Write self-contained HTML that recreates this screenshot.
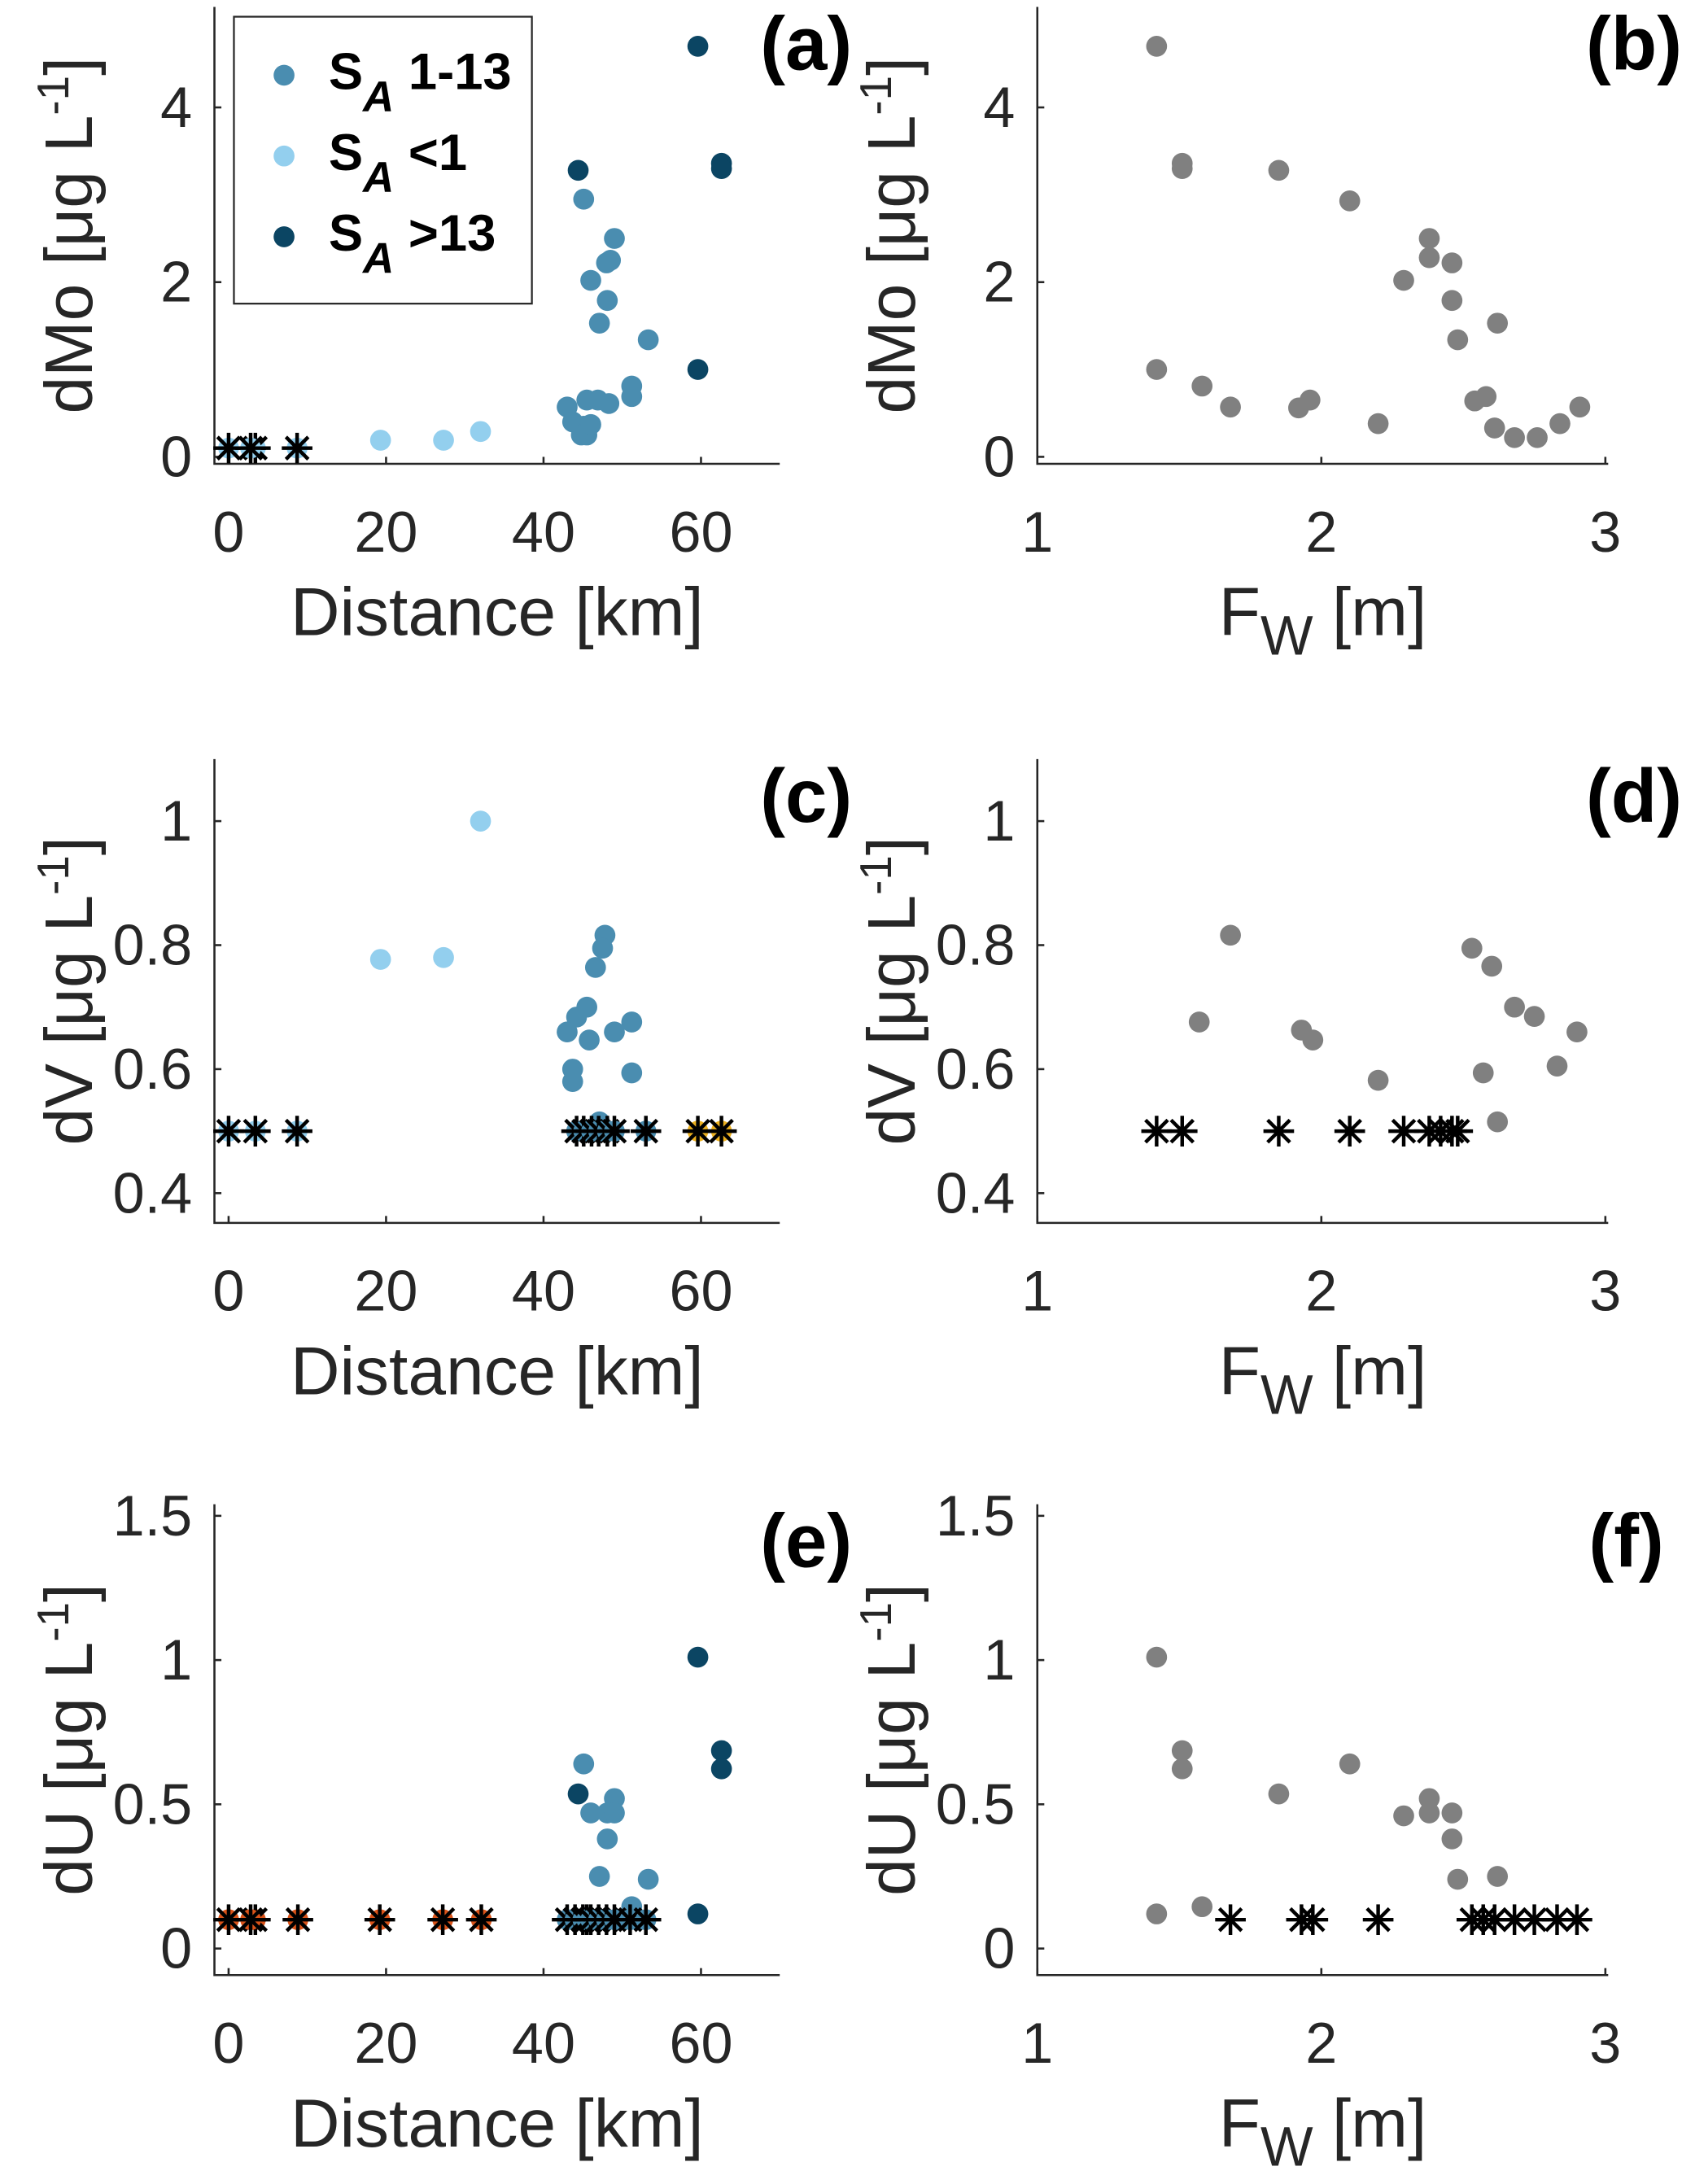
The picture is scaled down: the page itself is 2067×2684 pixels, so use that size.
<!DOCTYPE html>
<html><head><meta charset="utf-8"><style>
html,body{margin:0;padding:0;background:#fff}
svg{display:block}
text{font-family:"Liberation Sans",sans-serif;fill:#262626}
</style></head><body>
<svg id="fig" width="2067" height="2684" viewBox="0 0 1208 1568" preserveAspectRatio="none" xmlns="http://www.w3.org/2000/svg"></svg>
<script>
// ---- data ----
const aMidX=[45.1,49.0,48.5,48.0,46.0,48.1,47.1,53.3,51.2,51.2,43.0,45.5,46.9,48.3,43.7,45.1,44.8,45.5,46.0];
const aMidY=[2.95,2.50,2.25,2.22,2.02,1.79,1.53,1.34,0.81,0.69,0.57,0.65,0.65,0.61,0.40,0.35,0.25,0.25,0.37];
const aLowX=[19.3,27.3,32.0];
const aLowY=[0.19,0.19,0.29];
const aHighX=[59.6,44.4,62.6,62.6,59.6];
const aHighY=[4.70,3.28,3.36,3.30,1.00];
const aStarX=[0,3.4,2.8,8.7];
const aStarY=[0.1,0.1,0.1,0.1];
const bX=[1.42,1.51,1.51,1.85,2.10,2.38,2.38,2.46,2.29,2.46,2.48,2.62,1.42,1.58,1.68,1.96,1.92,2.20,2.54,2.58,2.61,2.68,2.76,2.84,2.91];
const bY=[4.70,3.36,3.30,3.28,2.93,2.50,2.28,2.22,2.02,1.79,1.34,1.53,1.00,0.81,0.57,0.65,0.56,0.38,0.64,0.69,0.33,0.22,0.22,0.38,0.57];
const cMidX=[47.8,47.5,46.6,45.5,44.2,43.0,45.8,51.2,49.0,43.7,43.7,51.2,47.1];
const cMidY=[0.816,0.795,0.764,0.70,0.684,0.66,0.647,0.676,0.66,0.60,0.58,0.594,0.515];
const cLowX=[19.3,27.3,32.0];
const cLowY=[0.777,0.78,1.0];
const cStarLowX=[0,3.4,8.7];
const cStarMidX=[44.2,45.1,46.1,47.0,48.1,49.0,53.0];
const cStarHighX=[59.6,62.6];
const cStarY=0.5;
const dX=[1.57,1.68,1.93,1.97,2.20,2.53,2.60,2.68,2.75,2.83,2.90,2.57,2.62];
const dY=[0.676,0.816,0.663,0.647,0.582,0.795,0.766,0.70,0.685,0.605,0.66,0.594,0.515];
const dStarX=[1.42,1.51,1.85,2.10,2.29,2.38,2.42,2.46,2.48];
const eMidX=[45.1,49.0,48.1,49.0,46.0,48.1,47.1,53.3,51.2];
const eMidY=[0.64,0.52,0.47,0.47,0.47,0.38,0.25,0.24,0.145];
const eHighX=[59.6,62.6,62.6,44.4,59.6];
const eHighY=[1.01,0.686,0.623,0.536,0.12];
const eStarLowX=[0,3.4,2.8,8.8,19.2,27.2,32.1];
const eStarMidX=[43,44,45,45.5,46,47,48,49,51,53];
const eStarY=0.1;
const fX=[1.42,1.51,1.51,1.85,2.10,2.29,2.38,2.38,2.46,2.46,2.48,2.62,1.42,1.58];
const fY=[1.01,0.686,0.623,0.536,0.64,0.46,0.52,0.47,0.47,0.38,0.24,0.25,0.12,0.145];
const fStarX=[1.68,1.93,1.97,2.20,2.53,2.57,2.61,2.68,2.75,2.83,2.90];
const distTicks=[0,20,40,60];
const fwTicks=[1,2,3];
const moTicks=[0,2,4];
const vTicks=[0.4,0.6,0.8,1];
const uTicks=[0,0.5,1,1.5];
const uTickLabels=["0","0.5","1","1.5"];

const C_MID="#4a8db0",C_LOW="#93cfee",C_HIGH="#0b4563",C_GRAY="#808080",C_OR="#d95319",C_GOLD="#edb120";
const NS="http://www.w3.org/2000/svg";
const svg=document.getElementById('fig');
function mk(tag,attrs,parent){const e=document.createElementNS(NS,tag);for(const k in attrs)e.setAttribute(k,attrs[k]);(parent||svg).appendChild(e);return e;}

function makeAxes(name,px0,px1,py0,py1,xmin,xmax,ymin,ymax,xt,yt,ytl,xlabel,ylabel,letter,letterX){
  const g=mk('g',{});
  
  
  const sx=v=>px0+(v-xmin)/(xmax-xmin)*(px1-px0);
  const sy=v=>py1-(v-ymin)/(ymax-ymin)*(py1-py0);
  const ax=mk('path',{d:`M${px0},${py0}V${py1}H${px1}`,fill:'none',stroke:'#262626','stroke-width':1.5},g);
  
  
  xt.forEach(v=>{
    mk('line',{x1:sx(v),x2:sx(v),y1:py1,y2:py1-5,stroke:'#262626','stroke-width':1.5},g);
    const t=mk('text',{x:sx(v),y:py1+63,'font-size':41,'text-anchor':'middle'},g);
    t.textContent=String(v);
    
    
  });
  yt.forEach((v,i)=>{
    mk('line',{x1:px0,x2:px0+5,y1:sy(v),y2:sy(v),stroke:'#262626','stroke-width':1.5},g);
    const t=mk('text',{x:px0-16,y:sy(v)+14,'font-size':41,'text-anchor':'end'},g);
    t.textContent=ytl?ytl[i]:String(v);
    
    
  });
  const xl=mk('text',{x:(px0+px1)/2,y:py1+123,'font-size':49,'text-anchor':'middle'},g);
  
  
  if(xlabel==='fw'){xl.innerHTML='F<tspan font-size="40" dy="14">W</tspan><tspan dy="-14"> [m]</tspan>';}
  else xl.textContent='Distance [km]';
  const cy=(py0+py1)/2, cx=px0-88;
  const yl=mk('text',{x:cx,y:cy,'font-size':48,'text-anchor':'middle',transform:`rotate(-90 ${cx} ${cy})`},g);
  yl.innerHTML=ylabel+' [μg L<tspan font-size="32" dy="-17">-1</tspan><tspan dy="17">]</tspan>';
  
  
  const lt=mk('text',{x:letterX,y:py0+45,'font-size':54,'font-weight':'bold','text-anchor':'end',style:'fill:#000'},g);
  lt.textContent=letter;
  
  
  return {g,sx,sy};
}
function dots(ax,xs,ys,color,name){
  xs.forEach((x,i)=>{
    const c=mk('circle',{cx:ax.sx(x),cy:ax.sy(ys[i]),r:7.5,fill:color},ax.g);
    
    
  });
}
function stars(ax,xs,y,under,name){
  xs.forEach(x=>{
    const X=ax.sx(x),Y=ax.sy(y);
    if(under){const u=mk('circle',{cx:X,cy:Y,r:7.5,fill:under},ax.g);
      
      }
    const s=mk('path',{d:`M${X-11},${Y}H${X+11}M${X},${Y-11}V${Y+11}M${X-8},${Y-8}L${X+8},${Y+8}M${X-8},${Y+8}L${X+8},${Y-8}`,stroke:'#000','stroke-width':2.6,fill:'none'},ax.g);
    
    
  });
}
// panel a
const A=makeAxes('panel-a',154,560,5,333,-1.8,70,-0.08,5.15,distTicks,moTicks,null,'dist','dMo','(a)',612);
stars(A,aStarX,0.1,C_LOW,'below-detection-star');
dots(A,aLowX,aLowY,C_LOW,'point-sa-low');
dots(A,aMidX,aMidY,C_MID,'point-sa-mid');
dots(A,aHighX,aHighY,C_HIGH,'point-sa-high');
// legend
const lg=mk('g',{});


mk('rect',{x:168,y:12,width:214,height:206,fill:'#fff',stroke:'#262626','stroke-width':1.3},lg);
[[C_MID,'1-13',52],[C_LOW,'&lt;1',110],[C_HIGH,'&gt;13',168]].forEach(([col,lab,y])=>{
  const e=mk('g',{},lg);
  
  
  mk('circle',{cx:204,cy:y+2,r:7.5,fill:col},e);
  const t=mk('text',{x:236,y:y+12,'font-size':37,'font-weight':'bold',style:'fill:#000'},e);
  t.innerHTML='S<tspan font-style="italic" font-size="31" dy="16">A</tspan><tspan dy="-16"> '+lab+'</tspan>';
});
// panel b
const B=makeAxes('panel-b',745,1155,5,333,1,3.01,-0.08,5.15,fwTicks,moTicks,null,'fw','dMo','(b)',1208);
dots(B,bX,bY,C_GRAY,'point-fw');
// panel c
const Cp=makeAxes('panel-c',154,560,545,878,-1.8,70,0.352,1.1,distTicks,vTicks,null,'dist','dV','(c)',612);
dots(Cp,cLowX,cLowY,C_LOW,'point-sa-low');
dots(Cp,cMidX,cMidY,C_MID,'point-sa-mid');
stars(Cp,cStarLowX,cStarY,C_LOW,'below-detection-star');
stars(Cp,cStarMidX,cStarY,C_MID,'below-detection-star');
stars(Cp,cStarHighX,cStarY,C_GOLD,'below-detection-star');
// panel d
const D=makeAxes('panel-d',745,1155,545,878,1,3.01,0.352,1.1,fwTicks,vTicks,null,'fw','dV','(d)',1208);
dots(D,dX,dY,C_GRAY,'point-fw');
stars(D,dStarX,cStarY,null,'below-detection-star');
// panel e
const E=makeAxes('panel-e',154,560,1080,1418,-1.8,70,-0.092,1.54,distTicks,uTicks,uTickLabels,'dist','dU','(e)',612);
dots(E,eMidX,eMidY,C_MID,'point-sa-mid');
dots(E,eHighX,eHighY,C_HIGH,'point-sa-high');
stars(E,eStarLowX,eStarY,C_OR,'below-detection-star');
stars(E,eStarMidX,eStarY,C_MID,'below-detection-star');
// panel f
const F=makeAxes('panel-f',745,1155,1080,1418,1,3.01,-0.092,1.54,fwTicks,uTicks,uTickLabels,'fw','dU','(f)',1195);
dots(F,fX,fY,C_GRAY,'point-fw');
stars(F,fStarX,eStarY,null,'below-detection-star');
</script>
</body></html>
